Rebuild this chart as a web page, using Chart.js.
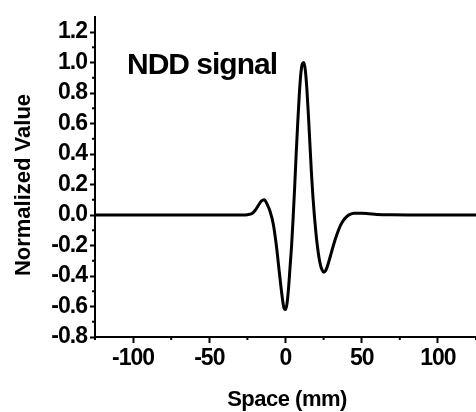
<!DOCTYPE html>
<html>
<head>
<meta charset="utf-8">
<script src="https://cdn.jsdelivr.net/npm/chart.js@4"></script>
<style>
  html, body { margin: 0; padding: 0; background: #fff; }
  #wrap { width: 476px; height: 412px; }
</style>
</head>
<body>
<div id="wrap"><canvas id="chartNdd"></canvas></div>
<script>
// values
const spaceMm = [-125, -100, -75, -50, -35, -28, -25, -22, -20, -18, -16, -14, -12, -10, -8, -6, -4, -2, -1, 0, 1, 2, 3, 4, 5, 6, 7, 8, 9, 10, 11, 12, 13, 14, 15, 16, 17, 18, 19, 20, 21, 22, 23, 24, 25, 26, 27, 28, 30, 32, 34, 36, 38, 40, 42, 45, 50, 55, 60, 70, 80, 100, 125];
const normValue = [0, 0, 0, 0, 0, 0, 0.002, 0.01, 0.03, 0.06, 0.09, 0.1, 0.07, 0.02, -0.06, -0.2, -0.38, -0.55, -0.61, -0.62, -0.58, -0.48, -0.34, -0.2, -0.02, 0.18, 0.4, 0.6, 0.78, 0.92, 0.99, 1.0, 0.95, 0.83, 0.66, 0.47, 0.28, 0.12, -0.01, -0.12, -0.21, -0.28, -0.33, -0.36, -0.375, -0.37, -0.35, -0.32, -0.25, -0.18, -0.12, -0.07, -0.035, -0.012, 0.003, 0.012, 0.012, 0.008, 0.004, 0.001, 0, 0, 0];

const xMajor = [-100, -50, 0, 50, 100];
const xMinor = [-125, -75, -25, 25, 75, 125];
const yMajor = [-0.8, -0.6, -0.4, -0.2, 0.0, 0.2, 0.4, 0.6, 0.8, 1.0, 1.2];
const yMinor = [-0.7, -0.5, -0.3, -0.1, 0.1, 0.3, 0.5, 0.7, 0.9, 1.1];

const fam = "'Liberation Sans', Arial, sans-serif";

// tighter letters, like the original export
const tight = {
  id: 'tight',
  beforeDraw(chart) {
    chart.ctx.letterSpacing = '-1px';
  }
};

// minor ticks + text labels
const extras = {
  id: 'extras',
  afterDraw(chart) {
    const ctx = chart.ctx;
    const xs = chart.scales.x;
    const ys = chart.scales.y;
    ctx.save();
    ctx.strokeStyle = '#000';
    ctx.lineWidth = 2;
    xMinor.forEach((v) => {
      const px = xs.getPixelForValue(v);
      ctx.beginPath();
      ctx.moveTo(px, xs.top);
      ctx.lineTo(px, xs.top + 3);
      ctx.stroke();
    });
    yMinor.forEach((v) => {
      const py = ys.getPixelForValue(v);
      ctx.beginPath();
      ctx.moveTo(ys.right, py);
      ctx.lineTo(ys.right - 3, py);
      ctx.stroke();
    });

    ctx.fillStyle = '#000';
    ctx.letterSpacing = '-1px';
    ctx.font = 'bold 30px ' + fam;
    ctx.textAlign = 'left';
    ctx.textBaseline = 'alphabetic';
    ctx.fillText('NDD signal', 127, 74);

    ctx.letterSpacing = '-0.5px';
    ctx.font = 'bold 22px ' + fam;
    ctx.textAlign = 'center';
    ctx.textBaseline = 'middle';
    ctx.fillText('Space (mm)', 287, 400);

    ctx.letterSpacing = '0px';
    ctx.translate(24, 185);
    ctx.rotate(-Math.PI / 2);
    ctx.fillText('Normalized Value', 0, 0);
    ctx.restore();
    ctx.letterSpacing = '0px';
  }
};

const ctx = document.getElementById('chartNdd').getContext('2d');
new Chart(ctx, {
  type: 'line',
  data: {
    datasets: [
      {
        data: spaceMm.map((x, i) => ({ x: x, y: normValue[i] })),
        borderColor: '#000',
        borderWidth: 3,
        pointRadius: 0,
        cubicInterpolationMode: 'monotone',
        fill: false,
      },
    ],
  },
  options: {
    responsive: true,
    maintainAspectRatio: false,
    animation: false,
    layout: { padding: { top: 10, right: 0, left: 0, bottom: 0 } },
    plugins: {
      legend: { display: false },
      tooltip: { enabled: false },
    },
    scales: {
      x: {
        type: 'linear',
        min: -125,
        max: 125,
        afterBuildTicks: (s) => { s.ticks = xMajor.map((v) => ({ value: v })); },
        afterFit: (s) => { s.height = 75; },
        grid: { drawOnChartArea: false, drawTicks: true, tickLength: 6, tickWidth: 2, color: '#000' },
        border: { color: '#000', width: 2 },
        ticks: { color: '#000', padding: 2, maxRotation: 0, font: { family: fam, size: 23, weight: 'bold' } },
      },
      y: {
        min: -0.8,
        max: 1.3,
        afterBuildTicks: (s) => { s.ticks = yMajor.map((v) => ({ value: v })); },
        afterFit: (s) => { s.width = 95; },
        grid: { drawOnChartArea: false, drawTicks: true, tickLength: 5, tickWidth: 2, color: '#000' },
        border: { color: '#000', width: 2 },
        ticks: {
          color: '#000',
          padding: 3,
          font: { family: fam, size: 23, weight: 'bold' },
          callback: (v) => v.toFixed(1),
        },
      },
    },
  },
  plugins: [tight, extras],
});
</script>
</body>
</html>
